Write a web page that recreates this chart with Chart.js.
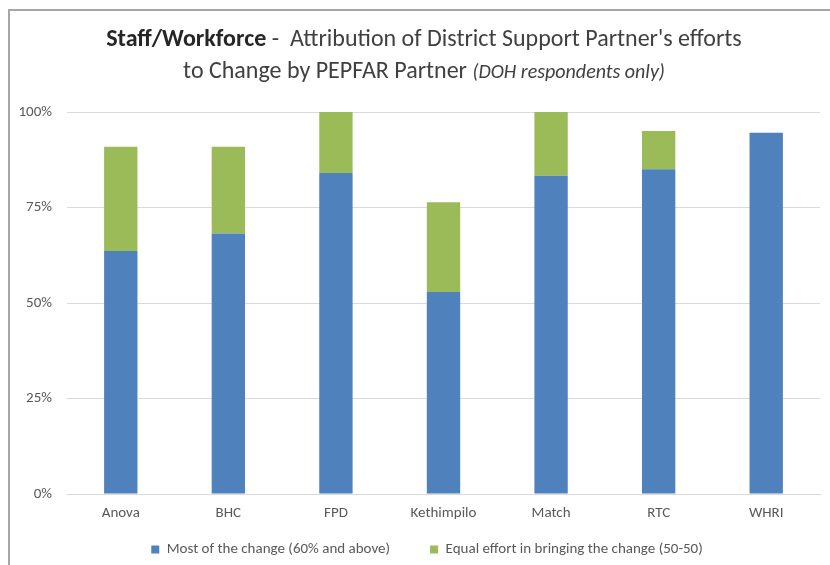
<!DOCTYPE html>
<html>
<head>
<meta charset="utf-8">
<script src="https://cdn.jsdelivr.net/npm/chart.js@4.4.1/dist/chart.umd.min.js"></script>
<style>
    body { margin: 0; background: #fff; }
    #wrap { position: relative; width: 830px; height: 565px; overflow: hidden; }
    #frame { position: absolute; left: 8px; top: 9px; width: 830px; height: 600px;
             border-left: 2px solid #a6a6a6; border-top: 2px solid #a6a6a6; }
    #title { position: absolute; left: 0; width: 848px; top: 22px; text-align: center;
             font-family: Carlito, "Liberation Sans Narrow", "Open Sans", sans-serif; font-size: 24px;
             color: #404040; line-height: 32px; }
    #title b { color: #262626; }
    #title i { font-size: 20px; }
    #chartBox { position: absolute; left: 0; top: 0; width: 830px; height: 565px; }
</style>
</head>
<body>
<div id="wrap">
    <div id="frame"></div>
    <div id="chartBox"><canvas id="chart"></canvas></div>
    <div id="title"><b>Staff/Workforce</b> -&nbsp; Attribution of District Support Partner's efforts<br>to Change by PEPFAR Partner <i>(DOH respondents only)</i></div>
</div>
<script>
    // Dados
    const partners = ['Anova', 'BHC', 'FPD', 'Kethimpilo', 'Match', 'RTC', 'WHRI'];
    const mostOfChange = [63.6, 68.2, 84.0, 52.9, 83.3, 85.0, 94.6];
    const equalEffort = [27.3, 22.7, 16.0, 23.5, 16.7, 10.0, 0];
    const yTicks = [0, 25, 50, 75, 100];

    const fontFam = 'Carlito, "Liberation Sans Narrow", "Open Sans", sans-serif';

    // Posiciona a legenda como no original (mais acima e um pouco à direita)
    const legendPlacer = {
        id: 'legendPlacer',
        afterLayout(chart) {
            const lg = chart.legend;
            const dy = 502 - lg.top;
            const dx = 17;
            lg.top += dy; lg.bottom += dy;
            lg.left += dx; lg.right += dx;
            if (lg.legendHitBoxes) {
                lg.legendHitBoxes.forEach(b => { b.left += dx; b.top += dy; });
            }
        }
    };

    new Chart(document.getElementById('chart').getContext('2d'), {
        type: 'bar',
        data: {
            labels: partners,
            datasets: [{
                label: 'Most of the change (60% and above)',
                data: mostOfChange,
                backgroundColor: '#4f81bd',
                barPercentage: 0.31,
                categoryPercentage: 1
            }, {
                label: 'Equal effort in bringing the change (50-50)',
                data: equalEffort,
                backgroundColor: '#9bbb59',
                barPercentage: 0.31,
                categoryPercentage: 1
            }]
        },
        options: {
            responsive: true,
            maintainAspectRatio: false,
            animation: false,
            layout: { padding: { top: 112, right: 10, left: 0, bottom: -24 } },
            scales: {
                x: {
                    stacked: true,
                    grid: { display: false, drawTicks: false },
                    border: { color: '#d9d9d9', width: 1 },
                    afterFit: function (scale) { scale.height = 30; },
                    ticks: { color: '#595959', font: { family: fontFam, size: 15 }, padding: 10 }
                },
                y: {
                    stacked: true,
                    min: 0,
                    max: 100,
                    afterBuildTicks: function (scale) {
                        scale.ticks = yTicks.map(v => ({ value: v }));
                    },
                    afterFit: function (scale) { scale.width = 67; },
                    grid: { color: '#d9d9d9', drawTicks: false },
                    border: { display: false },
                    ticks: {
                        color: '#595959',
                        font: { family: fontFam, size: 15 },
                        padding: 15,
                        callback: v => v + '%'
                    }
                }
            },
            plugins: {
                legend: {
                    position: 'bottom',
                    labels: {
                        boxWidth: 8,
                        boxHeight: 8,
                        padding: 40,
                        color: '#595959',
                        font: { family: fontFam, size: 15 }
                    }
                },
                tooltip: { enabled: false }
            }
        },
        plugins: [legendPlacer]
    });
</script>
</body>
</html>
